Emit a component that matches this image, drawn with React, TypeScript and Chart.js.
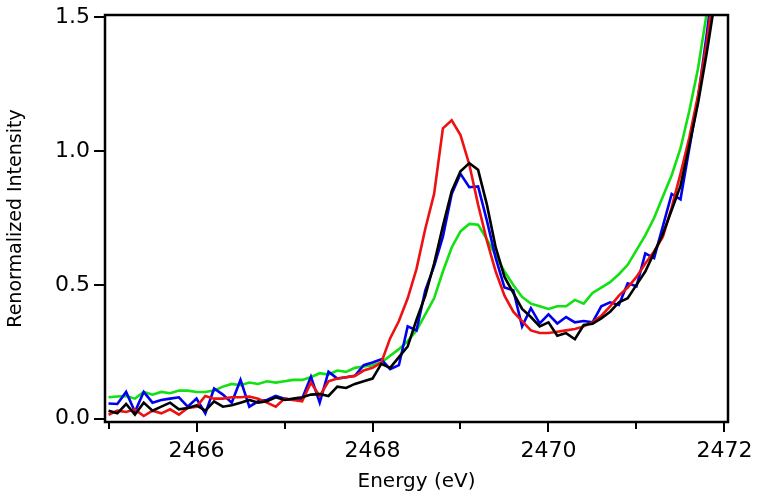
import React, { useEffect, useRef } from 'react';
import { Chart, registerables } from 'chart.js';

Chart.register(...registerables);

// Energy grid (eV)
const ENERGY = [
  2465.0, 2465.1, 2465.2, 2465.3, 2465.4, 2465.5, 2465.6, 2465.7, 2465.8, 2465.9,
  2466.0, 2466.1, 2466.2, 2466.3, 2466.4, 2466.5, 2466.6, 2466.7, 2466.8, 2466.9,
  2467.0, 2467.1, 2467.2, 2467.3, 2467.4, 2467.5, 2467.6, 2467.7, 2467.8, 2467.9,
  2468.0, 2468.1, 2468.2, 2468.3, 2468.4, 2468.5, 2468.6, 2468.7, 2468.8, 2468.9,
  2469.0, 2469.1, 2469.2, 2469.3, 2469.4, 2469.5, 2469.6, 2469.7, 2469.8, 2469.9,
  2470.0, 2470.1, 2470.2, 2470.3, 2470.4, 2470.5, 2470.6, 2470.7, 2470.8, 2470.9,
  2471.0, 2471.1, 2471.2, 2471.3, 2471.4, 2471.5, 2471.6, 2471.7, 2471.8, 2471.9,
];

const RED = [
  0.015, 0.03, 0.025, 0.035, 0.01, 0.03, 0.02, 0.035, 0.015, 0.04,
  0.045, 0.085, 0.075, 0.075, 0.08, 0.08, 0.083, 0.075, 0.06, 0.045,
  0.075, 0.07, 0.065, 0.135, 0.085, 0.14, 0.15, 0.155, 0.16, 0.18,
  0.19, 0.21, 0.3, 0.365, 0.45, 0.56, 0.71, 0.84, 1.085, 1.115,
  1.06, 0.95, 0.8, 0.665, 0.55, 0.46, 0.4, 0.365, 0.33, 0.32,
  0.32, 0.325, 0.33, 0.335, 0.345, 0.36, 0.385, 0.42, 0.46, 0.49,
  0.53, 0.58, 0.625, 0.68, 0.79, 0.915, 1.05, 1.21, 1.41, 1.65,
];

const BLUE = [
  0.057, 0.055, 0.1, 0.026, 0.1, 0.06, 0.07, 0.075, 0.08, 0.045,
  0.075, 0.02, 0.113, 0.09, 0.06, 0.145, 0.045, 0.065, 0.07, 0.085,
  0.075, 0.07, 0.075, 0.157, 0.06, 0.176, 0.15, 0.155, 0.16, 0.2,
  0.21, 0.222, 0.185, 0.2, 0.345, 0.33, 0.48, 0.57, 0.68, 0.84,
  0.915, 0.865, 0.868, 0.74, 0.6, 0.49, 0.48, 0.345, 0.413, 0.356,
  0.39, 0.356, 0.38, 0.36, 0.365, 0.36, 0.42, 0.435, 0.425, 0.506,
  0.495, 0.618, 0.6, 0.72, 0.84, 0.82, 1.01, 1.2, 1.44, 1.7,
];

const BLACK = [
  0.03, 0.02, 0.055, 0.015, 0.06, 0.03, 0.045, 0.06, 0.035, 0.04,
  0.05, 0.03, 0.065, 0.045, 0.05, 0.06, 0.07, 0.06, 0.065, 0.08,
  0.07, 0.075, 0.08, 0.09, 0.092, 0.085, 0.12, 0.115, 0.13, 0.14,
  0.15, 0.205, 0.19, 0.23, 0.27, 0.37, 0.46, 0.58, 0.72, 0.85,
  0.925, 0.955, 0.93, 0.8, 0.64, 0.53, 0.47, 0.41, 0.38, 0.345,
  0.36, 0.31, 0.32, 0.297, 0.35, 0.355, 0.375, 0.4, 0.435, 0.45,
  0.5, 0.55, 0.62, 0.69, 0.78, 0.87, 1.02, 1.18, 1.37, 1.58,
];

const GREEN = [
  0.08, 0.083, 0.085, 0.075, 0.1, 0.09, 0.1, 0.095, 0.105, 0.105,
  0.1, 0.1, 0.105, 0.12, 0.13, 0.125, 0.135, 0.13, 0.14, 0.135,
  0.14, 0.145, 0.145, 0.155, 0.17, 0.165, 0.18, 0.175, 0.19, 0.195,
  0.2, 0.21, 0.235, 0.26, 0.29, 0.33, 0.39, 0.45, 0.55, 0.64,
  0.7, 0.728, 0.725, 0.67, 0.61, 0.55, 0.5, 0.455, 0.43, 0.42,
  0.41, 0.42, 0.42, 0.444, 0.43, 0.47, 0.49, 0.51, 0.54, 0.575,
  0.63, 0.685, 0.75, 0.83, 0.91, 1.01, 1.15, 1.31, 1.52, 1.75,
];

const X_MAJOR = [2466, 2468, 2470, 2472];
const X_MINOR = [2465, 2467, 2469, 2471];
const Y_TICKS = [0, 0.5, 1.0, 1.5];

const X_MIN = 2464.96;
const X_MAX = 2472.04;
const Y_MIN = -0.0123;
const Y_MAX = 1.5086;

const FONT = '"DejaVu Sans", sans-serif';

const toPoints = (ys: number[]) => ENERGY.map((x, i) => ({ x, y: ys[i] }));

const zeroPad = (s: any) => {
  s.paddingTop = 0;
  s.paddingBottom = 0;
  s.paddingLeft = 0;
  s.paddingRight = 0;
};

const framePlugin = {
  id: 'frameTicks',
  afterDraw(chart: any) {
    const { ctx, chartArea: a, scales } = chart;
    const xs = scales.x;
    const ys = scales.y;
    ctx.save();
    ctx.strokeStyle = '#000';
    ctx.lineWidth = 2.5;
    ctx.strokeRect(a.left, a.top, a.right - a.left, a.bottom - a.top);
    ctx.lineWidth = 2;
    ctx.beginPath();
    X_MAJOR.forEach((v) => {
      const px = Math.round(xs.getPixelForValue(v));
      ctx.moveTo(px, a.bottom);
      ctx.lineTo(px, a.bottom + 10);
    });
    X_MINOR.forEach((v) => {
      const px = Math.round(xs.getPixelForValue(v));
      ctx.moveTo(px, a.bottom);
      ctx.lineTo(px, a.bottom + 7);
    });
    Y_TICKS.forEach((v) => {
      const py = Math.round(ys.getPixelForValue(v));
      ctx.moveTo(a.left, py);
      ctx.lineTo(a.left - 11, py);
    });
    ctx.stroke();
    ctx.restore();
  },
};

export default function App() {
  const ref = useRef<HTMLCanvasElement | null>(null);

  useEffect(() => {
    if (!ref.current) return;
    const mk = (label: string, data: number[], color: string) => ({
      label,
      data: toPoints(data),
      borderColor: color,
      backgroundColor: color,
      borderWidth: 2.6,
      pointRadius: 0,
      tension: 0,
      fill: false,
    });
    const chart = new Chart(ref.current, {
      type: 'line',
      data: {
        datasets: [
          mk('black', BLACK, '#000000'),
          mk('red', RED, '#ee1111'),
          mk('blue', BLUE, '#0000ee'),
          mk('green', GREEN, '#11e011'),
        ],
      },
      options: {
        responsive: false,
        animation: false,
        devicePixelRatio: 1,
        layout: { padding: { top: 15, right: 34, left: 0, bottom: 0 } },
        plugins: { legend: { display: false }, tooltip: { enabled: false } },
        scales: {
          x: {
            type: 'linear',
            min: X_MIN,
            max: X_MAX,
            afterBuildTicks: (s: any) => {
              s.ticks = X_MAJOR.map((v) => ({ value: v }));
            },
            afterFit: (s: any) => {
              s.height = 81;
              zeroPad(s);
            },
            grid: { display: false, drawTicks: false },
            border: { display: false },
            ticks: {
              padding: 16,
              maxRotation: 0,
              autoSkip: false,
              color: '#000',
              font: { family: FONT, size: 22 },
              callback: (v: any) => String(v),
            },
            title: {
              display: true,
              text: 'Energy (eV)',
              color: '#000',
              font: { family: FONT, size: 20 },
              padding: { top: 0, bottom: 9 },
            },
          },
          y: {
            type: 'linear',
            min: Y_MIN,
            max: Y_MAX,
            afterBuildTicks: (s: any) => {
              s.ticks = Y_TICKS.map((v) => ({ value: v }));
            },
            afterFit: (s: any) => {
              s.width = 105;
              zeroPad(s);
            },
            grid: { display: false, drawTicks: false },
            border: { display: false },
            ticks: {
              padding: 15,
              color: '#000',
              font: { family: FONT, size: 22 },
              callback: (v: any) => Number(v).toFixed(1),
            },
            title: {
              display: true,
              text: 'Renormalized Intensity',
              color: '#000',
              font: { family: FONT, size: 19 },
              padding: { top: 5, bottom: 0 },
            },
          },
        },
      },
      plugins: [framePlugin],
    });
    return () => chart.destroy();
  }, []);

  return (
    <div style={{ position: 'absolute', left: 0, top: 0, width: 762, height: 503, background: '#fff' }}>
      <canvas ref={ref} width={762} height={503} />
    </div>
  );
}
